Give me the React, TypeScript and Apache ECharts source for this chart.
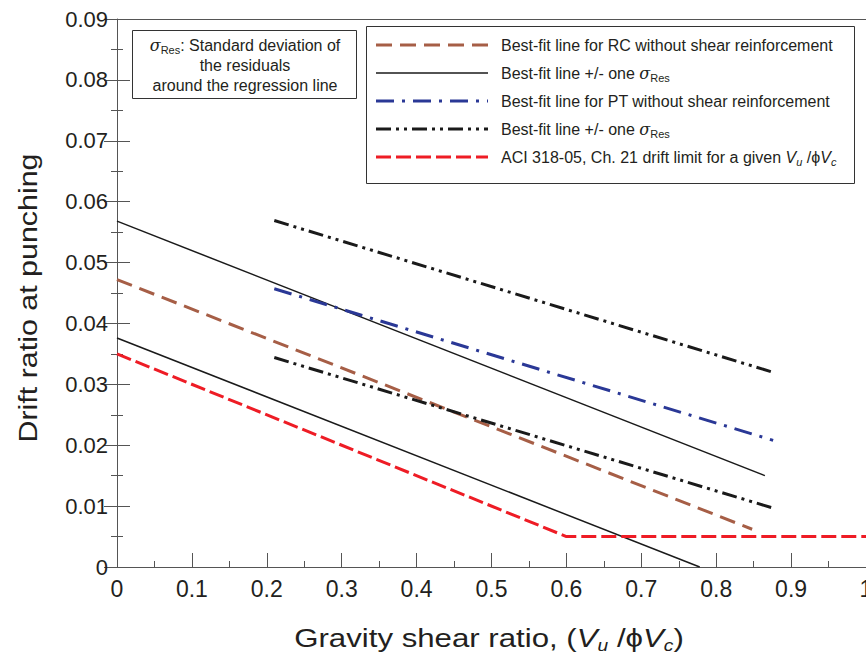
import React, { useEffect, useRef } from "react";
import * as echarts from "echarts";

// ---- data ----
const rcBestX = [0, 0.848];
const rcBestY = [0.0472, 0.0062];
const rcUpperX = [0, 0.865];
const rcUpperY = [0.0568, 0.015];
const rcLowerX = [0, 0.778];
const rcLowerY = [0.0376, 0];
const ptBestX = [0.21, 0.876];
const ptBestY = [0.0457, 0.0208];
const ptUpperX = [0.21, 0.878];
const ptUpperY = [0.0569, 0.0319];
const ptLowerX = [0.21, 0.878];
const ptLowerY = [0.0344, 0.0096];
const aciX = [0, 0.6, 1.0];
const aciY = [0.035, 0.005, 0.005];

const xTicks = [0, 0.1, 0.2, 0.3, 0.4, 0.5, 0.6, 0.7, 0.8, 0.9, 1];
const yTicks = [0, 0.01, 0.02, 0.03, 0.04, 0.05, 0.06, 0.07, 0.08, 0.09];

const legendLabels = [
  "Best-fit line for RC without shear reinforcement",
  "Best-fit line +/- one {s|σ}{sub|Res}",
  "Best-fit line for PT without shear reinforcement",
  "Best-fit line +/- one {s|σ}{sub|Res}",
  "ACI 318-05, Ch. 21 drift limit for a given {i|V}{isub|u} /ϕ{i|V}{isub|c}",
];

const pts = (xs: number[], ys: number[]) => xs.map((x, i) => [x, ys[i]]);

const BROWN = "#A65E46";
const BLUE = "#2A3896";
const RED = "#EE1C25";
const BLACK = "#1A1A1A";
const FONT = "'Liberation Sans', Arial, Helvetica, sans-serif";
const NARROW = "'Liberation Sans Narrow', 'Arial Narrow', 'Liberation Sans', sans-serif";

const dashBrown = [16, 8];
const dashBlue = [18, 8, 3, 8];
const dashDDot = [15, 5, 3, 5, 3, 5];
const dashRed = [15, 5];

export default function App() {
  const ref = useRef<HTMLDivElement>(null);
  useEffect(() => {
    if (!ref.current) return;
    const chart = echarts.init(ref.current, undefined, { renderer: "svg" });

    const legendStyles = [
      { stroke: BROWN, lineWidth: 3, lineDash: dashBrown },
      { stroke: BLACK, lineWidth: 1.5 },
      { stroke: BLUE, lineWidth: 3, lineDash: dashBlue },
      { stroke: BLACK, lineWidth: 3, lineDash: dashDDot },
      { stroke: RED, lineWidth: 3, lineDash: dashRed },
    ];
    const richSub = {
      s: { fontFamily: "'DejaVu Serif', 'Liberation Serif', serif", fontStyle: "italic", fontSize: 16, color: "#231F20" },
      sub: { fontFamily: FONT, fontSize: 11, verticalAlign: "bottom", lineHeight: 21, color: "#231F20" },
      i: { fontFamily: FONT, fontStyle: "italic", fontSize: 16, color: "#231F20" },
      isub: { fontFamily: FONT, fontStyle: "italic", fontSize: 11, verticalAlign: "bottom", lineHeight: 21, color: "#231F20" },
    };
    const rowY = [45, 73, 101, 129, 157];
    const legendChildren: any[] = [
      {
        type: "rect",
        shape: { x: 366.5, y: 26.5, width: 488, height: 157 },
        style: { fill: "#fff", stroke: "#333", lineWidth: 1 },
      },
    ];
    legendLabels.forEach((label, k) => {
      legendChildren.push({
        type: "line",
        shape: { x1: 376, y1: rowY[k], x2: 488, y2: rowY[k] },
        style: { ...legendStyles[k], fill: null },
      });
      legendChildren.push({
        type: "text",
        x: 501,
        y: rowY[k],
        style: {
          text: label,
          fontFamily: FONT,
          fontSize: 16,
          fill: "#231F20",
          verticalAlign: "middle",
          align: "left",
          rich: richSub,
        },
      });
    });

    const noteLines = ["{s|σ}{sub|Res}: Standard deviation of", "the residuals", "around the regression line"];
    const noteChildren: any[] = [
      {
        type: "rect",
        shape: { x: 132.5, y: 30.5, width: 224, height: 68 },
        style: { fill: "#fff", stroke: "#333", lineWidth: 1 },
      },
    ];
    noteLines.forEach((t, k) => {
      noteChildren.push({
        type: "text",
        x: 245,
        y: 45 + k * 20,
        style: {
          text: t,
          fontFamily: FONT,
          fontSize: 16,
          fill: "#231F20",
          align: "center",
          verticalAlign: "middle",
          rich: richSub,
        },
      });
    });

    const axisColor = "#555";
    const baseLine = (data: number[][], color: string, width: number, dash?: number[]) => ({
      type: "line" as const,
      data,
      symbol: "none",
      silent: true,
      lineStyle: { color, width, type: dash ? dash : "solid" },
    });

    chart.setOption({
      animation: false,
      backgroundColor: "#fff",
      grid: { left: 117, right: 0, top: 19, bottom: 89, containLabel: false, outerBoundsMode: "none" },
      xAxis: [
        {
          type: "value",
          min: xTicks[0],
          max: xTicks[xTicks.length - 1],
          interval: 0.1,
          axisLine: { show: true, lineStyle: { color: axisColor, width: 1 } },
          axisTick: { show: true, inside: true, length: 14, lineStyle: { color: axisColor } },
          minorTick: { show: true, splitNumber: 2, length: 6, lineStyle: { color: axisColor } },
          splitLine: { show: false },
          axisLabel: {
            margin: 10,
            fontFamily: NARROW,
            fontSize: 23,
            color: "#231F20",
            formatter: (v: number) => (v === 0 ? "0" : v === 1 ? "1" : v.toFixed(1)),
          },
        },
        {
          type: "value",
          position: "top",
          min: 0,
          max: 1,
          interval: 0.1,
          axisLine: { show: true, onZero: false, lineStyle: { color: axisColor, width: 1 } },
          axisTick: { show: false },
          axisLabel: { show: false },
          splitLine: { show: false },
        },
      ],
      yAxis: [
        {
          type: "value",
          min: yTicks[0],
          max: yTicks[yTicks.length - 1],
          interval: 0.01,
          axisLine: { show: true, lineStyle: { color: axisColor, width: 1 } },
          axisTick: { show: true, inside: true, length: 13, lineStyle: { color: axisColor } },
          minorTick: { show: true, splitNumber: 2, length: 6, lineStyle: { color: axisColor } },
          splitLine: { show: false },
          axisLabel: {
            margin: 9,
            fontFamily: FONT,
            fontSize: 22,
            color: "#231F20",
            formatter: (v: number) => (v === 0 ? "0" : v.toFixed(2)),
          },
        },
        {
          type: "value",
          position: "right",
          min: 0,
          max: 0.09,
          interval: 0.01,
          axisLine: { show: false },
          axisTick: { show: true, inside: true, length: 13, lineStyle: { color: axisColor } },
          minorTick: { show: true, splitNumber: 2, length: 6, lineStyle: { color: axisColor } },
          axisLabel: { show: false },
          splitLine: { show: false },
        },
      ],
      series: [
        baseLine(pts(rcBestX, rcBestY), BROWN, 3, dashBrown),
        baseLine(pts(rcUpperX, rcUpperY), BLACK, 1.5),
        baseLine(pts(rcLowerX, rcLowerY), BLACK, 1.5),
        baseLine(pts(ptBestX, ptBestY), BLUE, 3, dashBlue),
        baseLine(pts(ptUpperX, ptUpperY), BLACK, 3, dashDDot),
        baseLine(pts(ptLowerX, ptLowerY), BLACK, 3, dashDDot),
        baseLine(pts(aciX, aciY), RED, 3, dashRed),
      ],
      graphic: [
        { type: "group", children: noteChildren },
        { type: "group", children: legendChildren },
        {
          type: "text",
          x: 28,
          y: 298,
          rotation: Math.PI / 2,
          scaleX: 1.17,
          style: {
            text: "Drift ratio at punching",
            fontFamily: FONT,
            fontSize: 26,
            fill: "#231F20",
            align: "center",
            verticalAlign: "middle",
          },
        },
        {
          type: "text",
          x: 489,
          y: 638,
          scaleX: 1.2,
          style: {
            text: "Gravity shear ratio, ({i|V}{sub|u} /ϕ{i|V}{sub|c})",
            fontFamily: FONT,
            fontSize: 26,
            fill: "#231F20",
            align: "center",
            verticalAlign: "middle",
            rich: {
              i: { fontFamily: FONT, fontStyle: "italic", fontSize: 26, fill: "#231F20" },
              sub: { fontFamily: FONT, fontStyle: "italic", fontSize: 16, verticalAlign: "bottom", lineHeight: 32, fill: "#231F20" },
            },
          },
        },
      ],
    });
    return () => chart.dispose();
  }, []);
  return (
    <div
      ref={ref}
      style={{ position: "fixed", left: 0, top: 0, width: 866, height: 656, background: "#fff" }}
    />
  );
}
